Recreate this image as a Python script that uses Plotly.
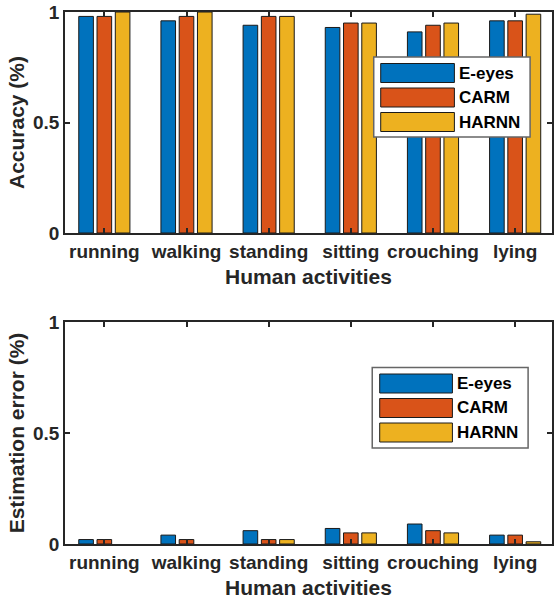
import plotly.graph_objects as go

activities = ["running", "walking", "standing", "sitting", "crouching", "lying"]
methods = ["E-eyes", "CARM", "HARNN"]
colors = ["#0072BD", "#D95319", "#EDB120"]

acc_eeyes = [0.98, 0.96, 0.94, 0.93, 0.91, 0.96]
acc_carm = [0.98, 0.98, 0.98, 0.95, 0.94, 0.96]
acc_harnn = [1.00, 1.00, 0.98, 0.95, 0.95, 0.99]

err_eeyes = [0.02, 0.04, 0.06, 0.07, 0.09, 0.04]
err_carm = [0.02, 0.02, 0.02, 0.05, 0.06, 0.04]
err_harnn = [0.00, 0.00, 0.02, 0.05, 0.05, 0.01]

acc = [acc_eeyes, acc_carm, acc_harnn]
err = [err_eeyes, err_carm, err_harnn]

W, H = 554, 602
L, R, T, B = 65, 0, 12, 58
TXT = "#262626"
FONT = "Liberation Sans, Arial, sans-serif"

def visible(vals):
    # zero-height bars are not drawn (no outline), as in the reference
    return [v if v > 0 else None for v in vals]

fig = go.Figure()
for i, m in enumerate(methods):
    fig.add_trace(go.Bar(x=activities, y=visible(acc[i]), name=m,
                         marker=dict(color=colors[i], line=dict(color="#1a1a1a", width=1)),
                         xaxis="x", yaxis="y", showlegend=False))
for i, m in enumerate(methods):
    fig.add_trace(go.Bar(x=activities, y=visible(err[i]), name=m,
                         marker=dict(color=colors[i], line=dict(color="#1a1a1a", width=1)),
                         xaxis="x2", yaxis="y2", showlegend=False))

plot_h = H - T - B
def ypaper(px):
    return (H - B - px) / plot_h

top_dom = [ypaper(233), ypaper(12)]
bot_dom = [ypaper(544), ypaper(322)]

# category 0 centre at ~104.5 px, spacing ~82.5 px
xr0 = -(104.5 - L) / 82.5
xr1 = xr0 + (W - L - R) / 82.5

title_font = dict(family=FONT, size=21, color=TXT, weight="bold")
axis_common = dict(showline=True, linecolor=TXT, linewidth=1.5, mirror="allticks", ticks="inside",
                   ticklen=5, tickwidth=1.5, tickcolor=TXT, showgrid=False, zeroline=False,
                   tickfont=dict(family=FONT, size=19, color=TXT, weight="bold"))
xa = dict(axis_common, type="category", range=[xr0, xr1],
          title=dict(text="Human activities", font=title_font, standoff=9))
ya_acc = dict(axis_common, range=[0, 1], tickvals=[0, 0.5, 1], ticktext=["0", "0.5", "1"],
              title=dict(text="Accuracy (%)", font=title_font, standoff=3))
ya_err = dict(axis_common, range=[0, 1], tickvals=[0, 0.5, 1], ticktext=["0", "0.5", "1"],
              title=dict(text="Estimation error (%)", font=title_font, standoff=3))

fig.update_layout(
    width=W, height=H, margin=dict(l=L, r=R, t=T, b=B),
    paper_bgcolor="white", plot_bgcolor="white",
    barmode="group", bargap=0.333, bargroupgap=0.2,
    xaxis=dict(xa, domain=[0, 1], anchor="y"),
    yaxis=dict(ya_acc, domain=top_dom, anchor="x"),
    xaxis2=dict(xa, domain=[0, 1], anchor="y2"),
    yaxis2=dict(ya_err, domain=bot_dom, anchor="x2"),
    showlegend=False,
)

# custom MATLAB-style legends
def add_legend(xref, yref, y0_px, y1_px, box, patch_x, row_tops, text_x, row_h=19):
    pw = W - L - R
    def fx(px):
        return (px - L) / pw
    def fy(px):
        return (y0_px - px) / (y0_px - y1_px)
    fig.add_shape(type="rect", xref=xref, yref=yref, x0=fx(box[0]), x1=fx(box[1]), y0=fy(box[2]), y1=fy(box[3]),
                  line=dict(color="#666666", width=1.5), fillcolor="white", layer="above")
    for i, m in enumerate(methods):
        t = row_tops[i]
        fig.add_shape(type="rect", xref=xref, yref=yref, x0=fx(patch_x[0]), x1=fx(patch_x[1]),
                      y0=fy(t), y1=fy(t + row_h), line=dict(color="#1a1a1a", width=1),
                      fillcolor=colors[i], layer="above")
        fig.add_annotation(xref=xref, yref=yref, x=fx(text_x), y=fy(t + row_h / 2), text=m,
                           showarrow=False, xanchor="left", yanchor="middle",
                           font=dict(family=FONT, size=17, color="#000000", weight="bold"))

add_legend("x domain", "y domain", 233, 12, (375, 532, 57, 137), (382, 456), (63.5, 88, 112.5), 459)
add_legend("x2 domain", "y2 domain", 544, 322, (373.5, 530, 367.5, 448), (381, 454), (374, 398.5, 423), 457)

fig.write_html("out.html")
